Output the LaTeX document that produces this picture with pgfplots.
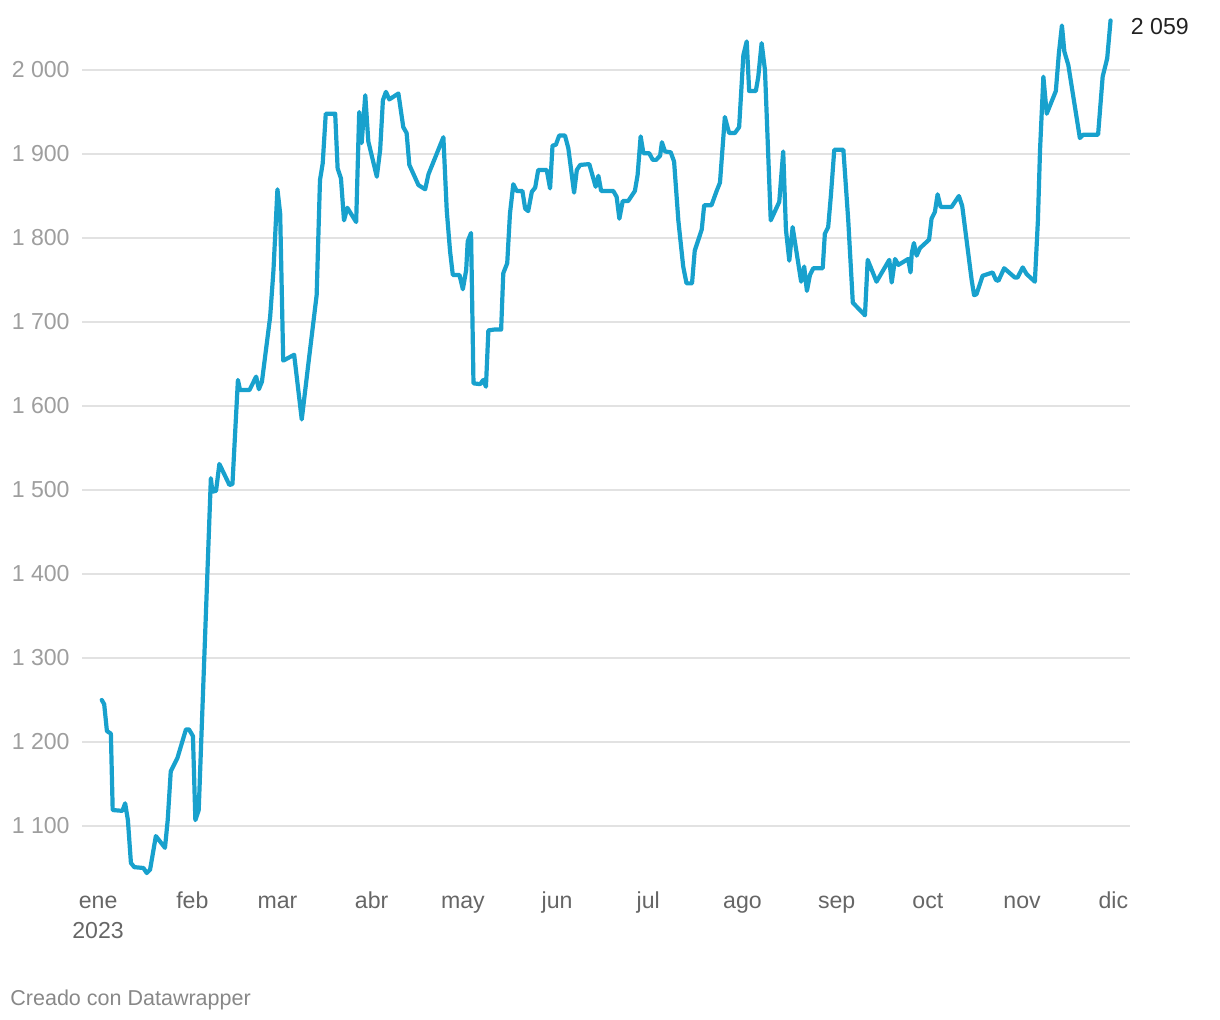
\documentclass[border=0pt]{standalone}
\usepackage{fontspec}
\setmainfont{Liberation Sans}
\usepackage{pgfplots}
\pgfplotsset{compat=1.18}
\definecolor{dwblue}{RGB}{24,161,205}
\definecolor{gridgray}{RGB}{226,226,226}
\definecolor{ylab}{RGB}{158,158,158}
\definecolor{xlab}{RGB}{102,102,102}
\definecolor{note}{RGB}{136,136,136}
\definecolor{lastlab}{RGB}{34,34,34}

\begin{document}
\begin{tikzpicture}
\path[use as bounding box] (-41bp,-70bp) rectangle (569bp,440bp);
\begin{axis}[
    at={(0,0)}, anchor=south west,
    scale only axis, width=524bp, height=432.5bp,
    xmin=-5.3, xmax=339.5, ymin=1035.7, ymax=2065.5,
    axis line style={draw=none},
    major tick length=0pt,
    ymajorgrids, grid style={gridgray, line width=1bp},
    ytick={1100,1200,...,2000},
    xtick={0,31,59,90,120,151,181,212,243,273,304,334},
    xticklabels={\strut ene\\2023,\strut feb,\strut mar,\strut abr,\strut may,\strut jun,
                 \strut jul,\strut ago,\strut sep,\strut oct,\strut nov,\strut dic},
    xticklabel style={anchor=north, inner sep=0pt, yshift=-3.4bp, align=center,
                      text=xlab, font=\fontsize{11.6}{15}\selectfont},
    yticklabel style={anchor=east, inner sep=0pt, xshift=-6bp,
                      text=ylab, font=\fontsize{11.6}{14}\selectfont},
    /pgf/number format/assume math mode=true,
    /pgf/number format/1000 sep={\ },
    clip=false,
]
\addplot[dwblue, line width=2.1bp, line join=round, line cap=round, mark=none] coordinates {
    (1.2,1250) (2.0,1245) (2.9,1213) (4.2,1210) (4.8,1119) (8.0,1118) (8.9,1127)
    (9.8,1107) (10.8,1056) (11.9,1051) (14.9,1050) (16.0,1044) (17.1,1048)
    (19.0,1088) (22.0,1074) (22.9,1107) (23.9,1165) (26.1,1181) (28.9,1215)
    (29.9,1215) (31.2,1207) (32.0,1107) (33.1,1119) (37.1,1514) (37.6,1498)
    (38.8,1499) (39.9,1531) (43.2,1506) (44.2,1507) (46.0,1631) (46.7,1619)
    (49.8,1619) (52.0,1635) (52.9,1620) (53.9,1629) (56.6,1706) (57.7,1762)
    (59.0,1858) (59.9,1829) (60.9,1654) (64.5,1661) (67.0,1584) (69.2,1651)
    (71.9,1732) (73.0,1869) (73.9,1889) (74.9,1948) (78.0,1948) (78.8,1883)
    (79.9,1871) (80.9,1821) (82.0,1836) (84.9,1819) (85.9,1950) (86.7,1913)
    (87.9,1970) (88.9,1915) (91.7,1873) (92.8,1905) (93.7,1964) (94.7,1974)
    (95.8,1965) (98.8,1972) (100.4,1932) (101.5,1925) (102.4,1887) (105.4,1863)
    (107.6,1858) (108.7,1876) (113.6,1920) (114.7,1833) (115.8,1784) (116.7,1756)
    (118.9,1756) (120.0,1739) (121.1,1762) (121.6,1796) (122.7,1806) (123.5,1627)
    (125.7,1626) (126.7,1631) (127.6,1623) (128.4,1690) (130.3,1691) (132.6,1691)
    (133.3,1758) (134.6,1770) (135.5,1829) (136.6,1864) (137.7,1856) (139.6,1856)
    (140.5,1835) (141.5,1832) (142.7,1855) (143.8,1860) (144.8,1881) (147.6,1881)
    (148.7,1859) (149.5,1910) (150.6,1911) (151.7,1922) (153.6,1922) (154.7,1907)
    (156.6,1854) (157.5,1881) (158.6,1887) (161.6,1888) (163.7,1861) (164.6,1874)
    (165.5,1856) (169.5,1856) (170.6,1849) (171.5,1823) (172.6,1844) (174.4,1844)
    (176.6,1856) (177.5,1875) (178.5,1921) (179.4,1901) (181.3,1901) (182.5,1893)
    (183.6,1893) (184.9,1898) (185.5,1914) (186.5,1903) (188.4,1902) (189.5,1891)
    (190.9,1821) (192.5,1766) (193.6,1746) (195.4,1746) (196.3,1785) (198.6,1810)
    (199.4,1839) (201.8,1839) (203.5,1856) (204.6,1866) (206.2,1944) (207.6,1925)
    (209.5,1925) (210.9,1932) (212.3,2018) (213.4,2034) (214.2,1975) (216.4,1975)
    (217.2,1992) (218.3,2032) (219.4,2000) (221.3,1821) (224.1,1843) (225.4,1903)
    (226.3,1810) (227.4,1773) (228.5,1813) (231.3,1748) (232.3,1766) (233.2,1737)
    (234.2,1756) (235.3,1764) (238.4,1764) (239.1,1805) (240.2,1813) (241.1,1851)
    (242.2,1905) (245.2,1905) (246.8,1821) (248.3,1723) (252.3,1708) (253.2,1774)
    (256.1,1748) (260.3,1774) (261.1,1747) (262.2,1775) (263.3,1768) (266.5,1775)
    (267.3,1759) (267.7,1782) (268.4,1794) (269.3,1779) (270.4,1788) (273.4,1798)
    (274.2,1823) (275.3,1831) (276.2,1852) (277.2,1837) (280.8,1837) (283.2,1850)
    (284.3,1838) (287.4,1750) (288.2,1732) (289.0,1733) (291.0,1755) (294.3,1759)
    (295.4,1750) (296.2,1749) (298.1,1764) (301.6,1753) (302.5,1753) (304.2,1765)
    (305.5,1757) (308.2,1748) (309.2,1821) (309.9,1905) (311.0,1992) (312.1,1948)
    (315.1,1975) (316.1,2020) (317.1,2053) (317.9,2022) (319.2,2006) (323.0,1919)
    (324.1,1923) (329.0,1923) (330.5,1992) (332.0,2014) (333.1,2059)
};
\node[anchor=west, inner sep=0pt, xshift=10bp, yshift=-3bp, text=lastlab,
      font=\fontsize{11.6}{14}\selectfont] at (axis cs:333.1,2059) {2\ 059};
\end{axis}
\node[anchor=base west, inner sep=0pt, text=note, font=\fontsize{10.8}{13}\selectfont]
    at (-36bp,-62.5bp) {Creado con Datawrapper};
\end{tikzpicture}
\end{document}
